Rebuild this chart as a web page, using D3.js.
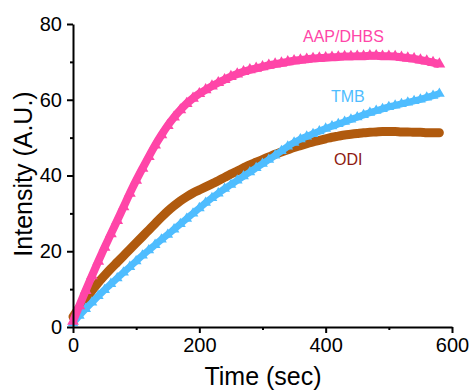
<!DOCTYPE html>
<html lang="en">
<head>
    <meta charset="UTF-8">
    <title>Intensity vs Time</title>
    <script src="https://d3js.org/d3.v7.min.js"></script>
    <style>
        body { margin: 0; background: #fff; }
        svg { display: block; font-family: "Liberation Sans", Arial, sans-serif; }
        .axis path, .axis line { stroke: #000; stroke-width: 2px; }
        .axis text { font-size: 20px; fill: #000; }
        .title { font-size: 25px; fill: #000; }
        .label { font-size: 16px; }
    </style>
</head>
<body>
<div id="chart"></div>
<script>
    // sampling times (sec)
    const timeSec = [0, 10, 20, 30, 40, 50, 60, 70, 80, 90, 100, 110, 120, 130, 140, 150, 160, 170, 180, 190,
        200, 210, 220, 230, 240, 250, 260, 270, 280, 290, 300, 310, 320, 330, 340, 350, 360, 370, 380, 390,
        400, 410, 420, 430, 440, 450, 460, 470, 480, 490, 500, 510, 520, 530, 540, 550, 560, 570, 580];

    const aapDhbs = [1.5, 5.6, 9.6, 13.5, 17.3, 21, 24.6, 28.1, 31.7, 35.3, 38.7, 41.9, 45, 48, 50.7, 53.2, 55.4, 57.3, 59, 60.4,
        61.6, 62.6, 63.6, 64.5, 65.3, 66.1, 66.8, 67.4, 67.9, 68.3, 68.7, 69.1, 69.4, 69.7, 70, 70.3, 70.5, 70.7, 70.9, 71,
        71.1, 71.2, 71.3, 71.4, 71.4, 71.5, 71.5, 71.6, 71.6, 71.5, 71.5, 71.4, 71.2, 71, 70.8, 70.5, 70.2, 69.8, 69.4];

    const tmb = [1, 3, 4.8, 6.5, 8.2, 9.8, 11.4, 12.9, 14.4, 15.9, 17.4, 18.9, 20.3, 21.7, 23.1, 24.4, 25.8, 27.2, 28.6, 30,
        31.4, 32.8, 34.1, 35.3, 36.5, 37.6, 38.7, 39.8, 40.9, 42, 43.1, 44.2, 45.3, 46.5, 47.7, 48.7, 49.6, 50.3, 51, 51.7,
        52.4, 53, 53.6, 54.2, 54.8, 55.4, 56, 56.6, 57.1, 57.6, 58.1, 58.5, 58.9, 59.3, 59.7, 60.1, 60.6, 61.1, 61.6];

    const odi = [2.7, 5.1, 7.4, 9.6, 11.7, 13.6, 15.4, 17.1, 18.8, 20.5, 22.2, 23.9, 25.6, 27.3, 29, 30.6, 32, 33.3, 34.4, 35.4,
        36.2, 37, 37.8, 38.6, 39.5, 40.4, 41.2, 42, 42.8, 43.5, 44.2, 44.9, 45.6, 46.2, 46.8, 47.4, 47.9, 48.4, 48.9, 49.3,
        49.7, 50.1, 50.4, 50.7, 50.9, 51.1, 51.3, 51.4, 51.5, 51.6, 51.6, 51.6, 51.5, 51.5, 51.4, 51.4, 51.3, 51.3, 51.3];

    const xTicks = [0, 200, 400, 600];
    const xMinorTicks = [100, 300, 500];
    const yTicks = [0, 20, 40, 60, 80];
    const yMinorTicks = [10, 30, 50, 70];

    const width = 469, height = 391;
    const svg = d3.select("#chart").append("svg")
        .attr("width", width)
        .attr("height", height);

    const x = d3.scaleLinear().domain([0, 600]).range([73, 452]);
    const y = d3.scaleLinear().domain([0, 80]).range([327, 24]);

    const zip = vals => timeSec.map((t, i) => ({t: t, v: vals[i]}));
    const line = d3.line().x(d => x(d.t)).y(d => y(d.v)).curve(d3.curveMonotoneX);

    // ODI - smooth thick band
    svg.append("path")
        .datum(zip(odi))
        .attr("d", line)
        .attr("fill", "none")
        .attr("stroke", "#b05a0e")
        .attr("stroke-width", 9)
        .attr("stroke-linecap", "round")
        .attr("stroke-linejoin", "round");

    // triangle series: band + markers
    function triangleSeries(vals, color, band, size) {
        const data = zip(vals);
        svg.append("path")
            .datum(data)
            .attr("d", line)
            .attr("fill", "none")
            .attr("stroke", color)
            .attr("stroke-width", band)
            .attr("stroke-linejoin", "round");
        svg.append("g").selectAll("path")
            .data(data)
            .join("path")
            .attr("d", d3.symbol().type(d3.symbolTriangle).size(size))
            .attr("transform", d => `translate(${x(d.t)},${y(d.v)})`)
            .attr("fill", color);
    }
    triangleSeries(tmb, "#4fbdff", 7, 50);
    triangleSeries(aapDhbs, "#ff45a8", 8, 60);

    // axes
    svg.append("g").attr("class", "axis")
        .attr("transform", "translate(0,327)")
        .call(d3.axisBottom(x).tickValues(xTicks).tickSize(6).tickSizeOuter(0).tickPadding(5));
    svg.append("g").attr("class", "axis")
        .attr("transform", "translate(0,327)")
        .call(d3.axisBottom(x).tickValues(xMinorTicks).tickSize(3).tickSizeOuter(0).tickFormat(""))
        .select(".domain").remove();

    svg.append("g").attr("class", "axis")
        .attr("transform", "translate(73,0)")
        .call(d3.axisLeft(y).tickValues(yTicks).tickSize(6).tickSizeOuter(0).tickPadding(5));
    svg.append("g").attr("class", "axis")
        .attr("transform", "translate(73,0)")
        .call(d3.axisLeft(y).tickValues(yMinorTicks).tickSize(3).tickSizeOuter(0).tickFormat(""))
        .select(".domain").remove();

    svg.selectAll(".axis text").attr("font-family", null);

    // axis titles
    svg.append("text").attr("class", "title")
        .attr("x", 263).attr("y", 385)
        .attr("text-anchor", "middle")
        .text("Time (sec)");
    svg.append("text").attr("class", "title")
        .attr("transform", "translate(32,174) rotate(-90)")
        .attr("text-anchor", "middle")
        .text("Intensity (A.U.)");

    // series labels
    svg.append("text").attr("class", "label").attr("x", 303).attr("y", 42).attr("fill", "#ff45a8").text("AAP/DHBS");
    svg.append("text").attr("class", "label").attr("x", 331).attr("y", 102).attr("fill", "#4fbdff").text("TMB");
    svg.append("text").attr("class", "label").attr("x", 334).attr("y", 165).attr("fill", "#8e1a12").text("ODI");
</script>
</body>
</html>
